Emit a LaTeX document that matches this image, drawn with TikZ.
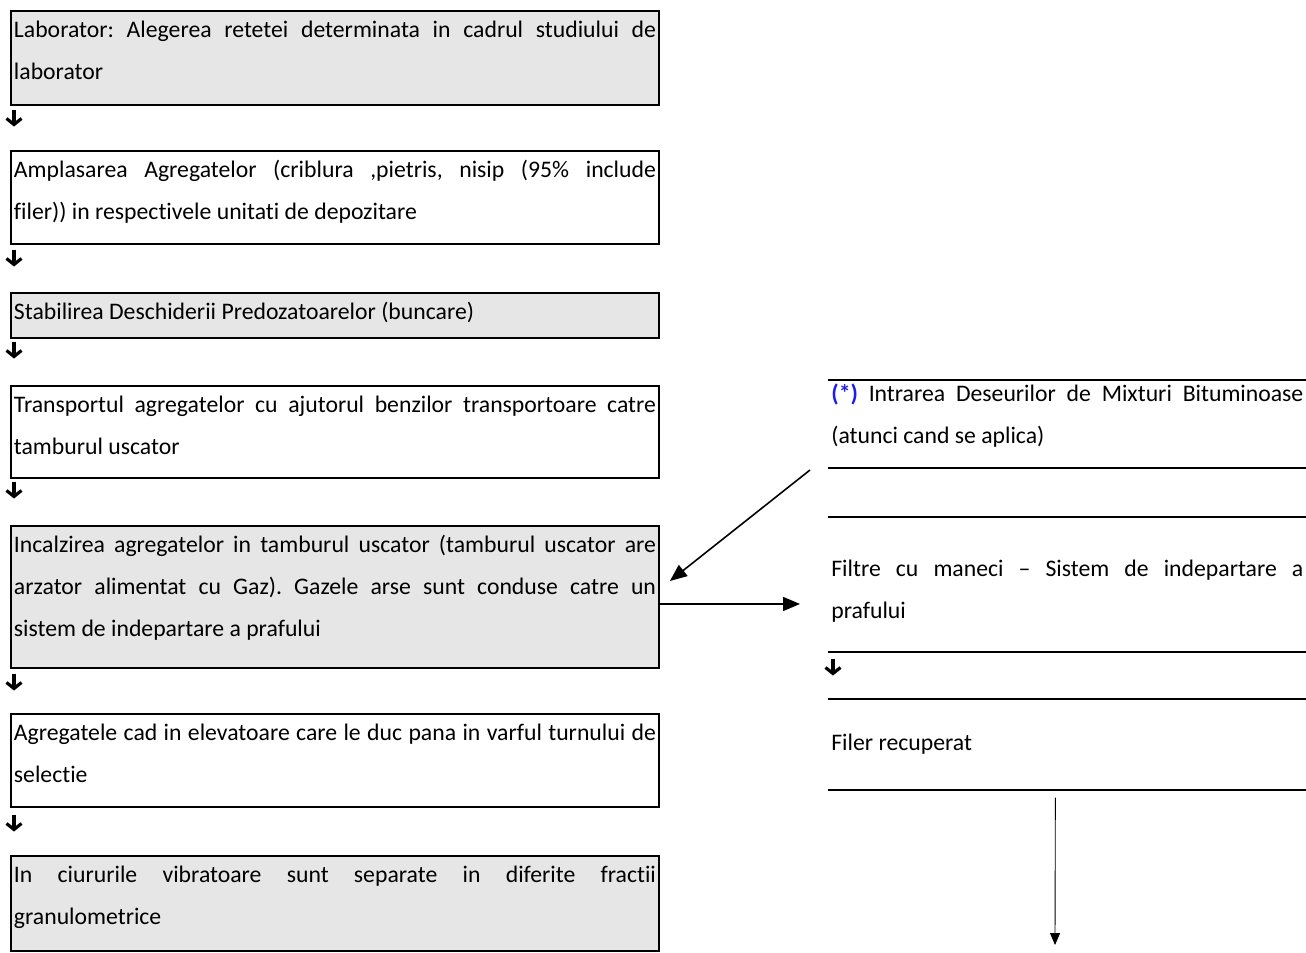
\documentclass[tikz,border=0pt]{standalone}
\usepackage{fontspec}
\setmainfont{Carlito}[Ligatures={NoCommon}]
\usepackage{xcolor}
\usetikzlibrary{shapes,arrows.meta,positioning,calc}

\definecolor{stepgrey}{RGB}{230,230,230}
\definecolor{starblue}{RGB}{30,30,235}
\frenchspacing

\begin{document}
\begin{tikzpicture}[
  every node/.style={font=\fontsize{13.5}{23.8}\selectfont},
  stepbox/.style={draw, line width=1.1pt, anchor=north west, text width=12.84cm, align=justify,
    inner xsep=0.06cm, inner ysep=0.1cm, text height=0.44cm},
  greybox/.style={stepbox, fill=stepgrey},
  whitebox/.style={stepbox, fill=white},
  rowbox/.style={anchor=north west, text width=9.44cm, align=justify, inner xsep=0.06cm, inner ysep=0.05cm},
  rule/.style={line width=1.1pt},
  downsign/.style={line width=2.1pt, -{Straight Barb[length=0.12cm,width=0.3cm,line width=1.8pt]}},
  flow/.style={-{Triangle[length=0.34cm,width=0.28cm]}, line width=0.9pt},
  thinflow/.style={-{Triangle[length=0.24cm,width=0.2cm]}, line width=0.5pt}
]
\useasboundingbox (0,0) rectangle (26.12,-19.04);

% Left column: main steps
\node[greybox, text depth=1.24cm] (lab) at (0.2,-0.2) {Laborator: Alegerea retetei determinata in cadrul studiului de\linebreak laborator};
\coordinate (d1) at (0.28,-2.36);

\node[whitebox, text depth=1.22cm] (stock) at (0.2,-3.0) {Amplasarea Agregatelor (criblura ,pietris, nisip (95\% include\linebreak filer)) in respectivele unitati de depozitare};
\coordinate (d2) at (0.28,-5.16);

\node[greybox, text depth=0.26cm] (bunker) at (0.2,-5.84) {Stabilirea Deschiderii Predozatoarelor (buncare)};
\coordinate (d3) at (0.28,-7.0);

\node[whitebox, text depth=1.2cm] (belt) at (0.2,-7.7) {Transportul agregatelor cu ajutorul benzilor transportoare catre\linebreak tamburul uscator};
\coordinate (d4) at (0.28,-9.8);

\node[greybox, text depth=2.2cm] (dryer) at (0.2,-10.5) {Incalzirea agregatelor in tamburul uscator (tamburul uscator are\linebreak arzator alimentat cu Gaz). Gazele arse sunt conduse catre un\linebreak sistem de indepartare a prafului};
\coordinate (d5) at (0.28,-13.64);

\node[whitebox, text depth=1.22cm] (lift) at (0.2,-14.26) {Agregatele cad in elevatoare care le duc pana in varful turnului de\linebreak selectie};
\coordinate (d6) at (0.28,-16.46);

\node[greybox, text depth=1.26cm] (sieve) at (0.2,-17.1) {In ciururile vibratoare sunt separate in diferite fractii\linebreak granulometrice};

% Right column: recycled material and dust
\node[rowbox, text height=0.37cm, text depth=1.27cm] (rap) at (16.56,-7.6) {{\color{starblue}\bfseries(*)} Intrarea Deseurilor de Mixturi Bituminoase\linebreak (atunci cand se aplica)};
\draw[rule] (rap.north west) -- (rap.north east);
\draw[rule] (rap.south west) -- (rap.south east);

\node[rowbox, text height=1.13cm, text depth=1.45cm] (filter) at (16.56,-10.34) {Filtre cu maneci -- Sistem de indepartare a\linebreak prafului};
\draw[rule] (filter.north west) -- (filter.north east);
\draw[rule] (filter.south west) -- (filter.south east);
\coordinate (d7) at (16.66,-13.34);

\node[rowbox, text height=0.97cm, text depth=0.73cm] (filler) at (16.56,-13.98) {Filer recuperat};
\draw[rule] (filler.north west) -- (filler.north east);
\draw[rule] (filler.south west) -- (filler.south east);

% Down signs
\foreach \d in {d1,d2,d3,d4,d5,d6,d7}
  \draw[downsign] ([yshift=0.17cm]\d) -- ([yshift=-0.17cm]\d);

% Arrows
\coordinate (rapin) at (16.2,-9.4);
\draw[flow] (rapin) -- ([shift={(0.2,0.32)}]dryer.east);
\coordinate (gasout) at ([yshift=-0.14cm]dryer.east);
\coordinate (gasend) at ([xshift=-0.56cm]filter.west);
\draw[flow] (gasout) -- (gasout -| gasend);
\coordinate (fillerout) at (21.1,-18.9);
\draw[thinflow] ([xshift=-0.24cm,yshift=-0.16cm]filler.south) -- (fillerout);

\end{tikzpicture}
\end{document}
